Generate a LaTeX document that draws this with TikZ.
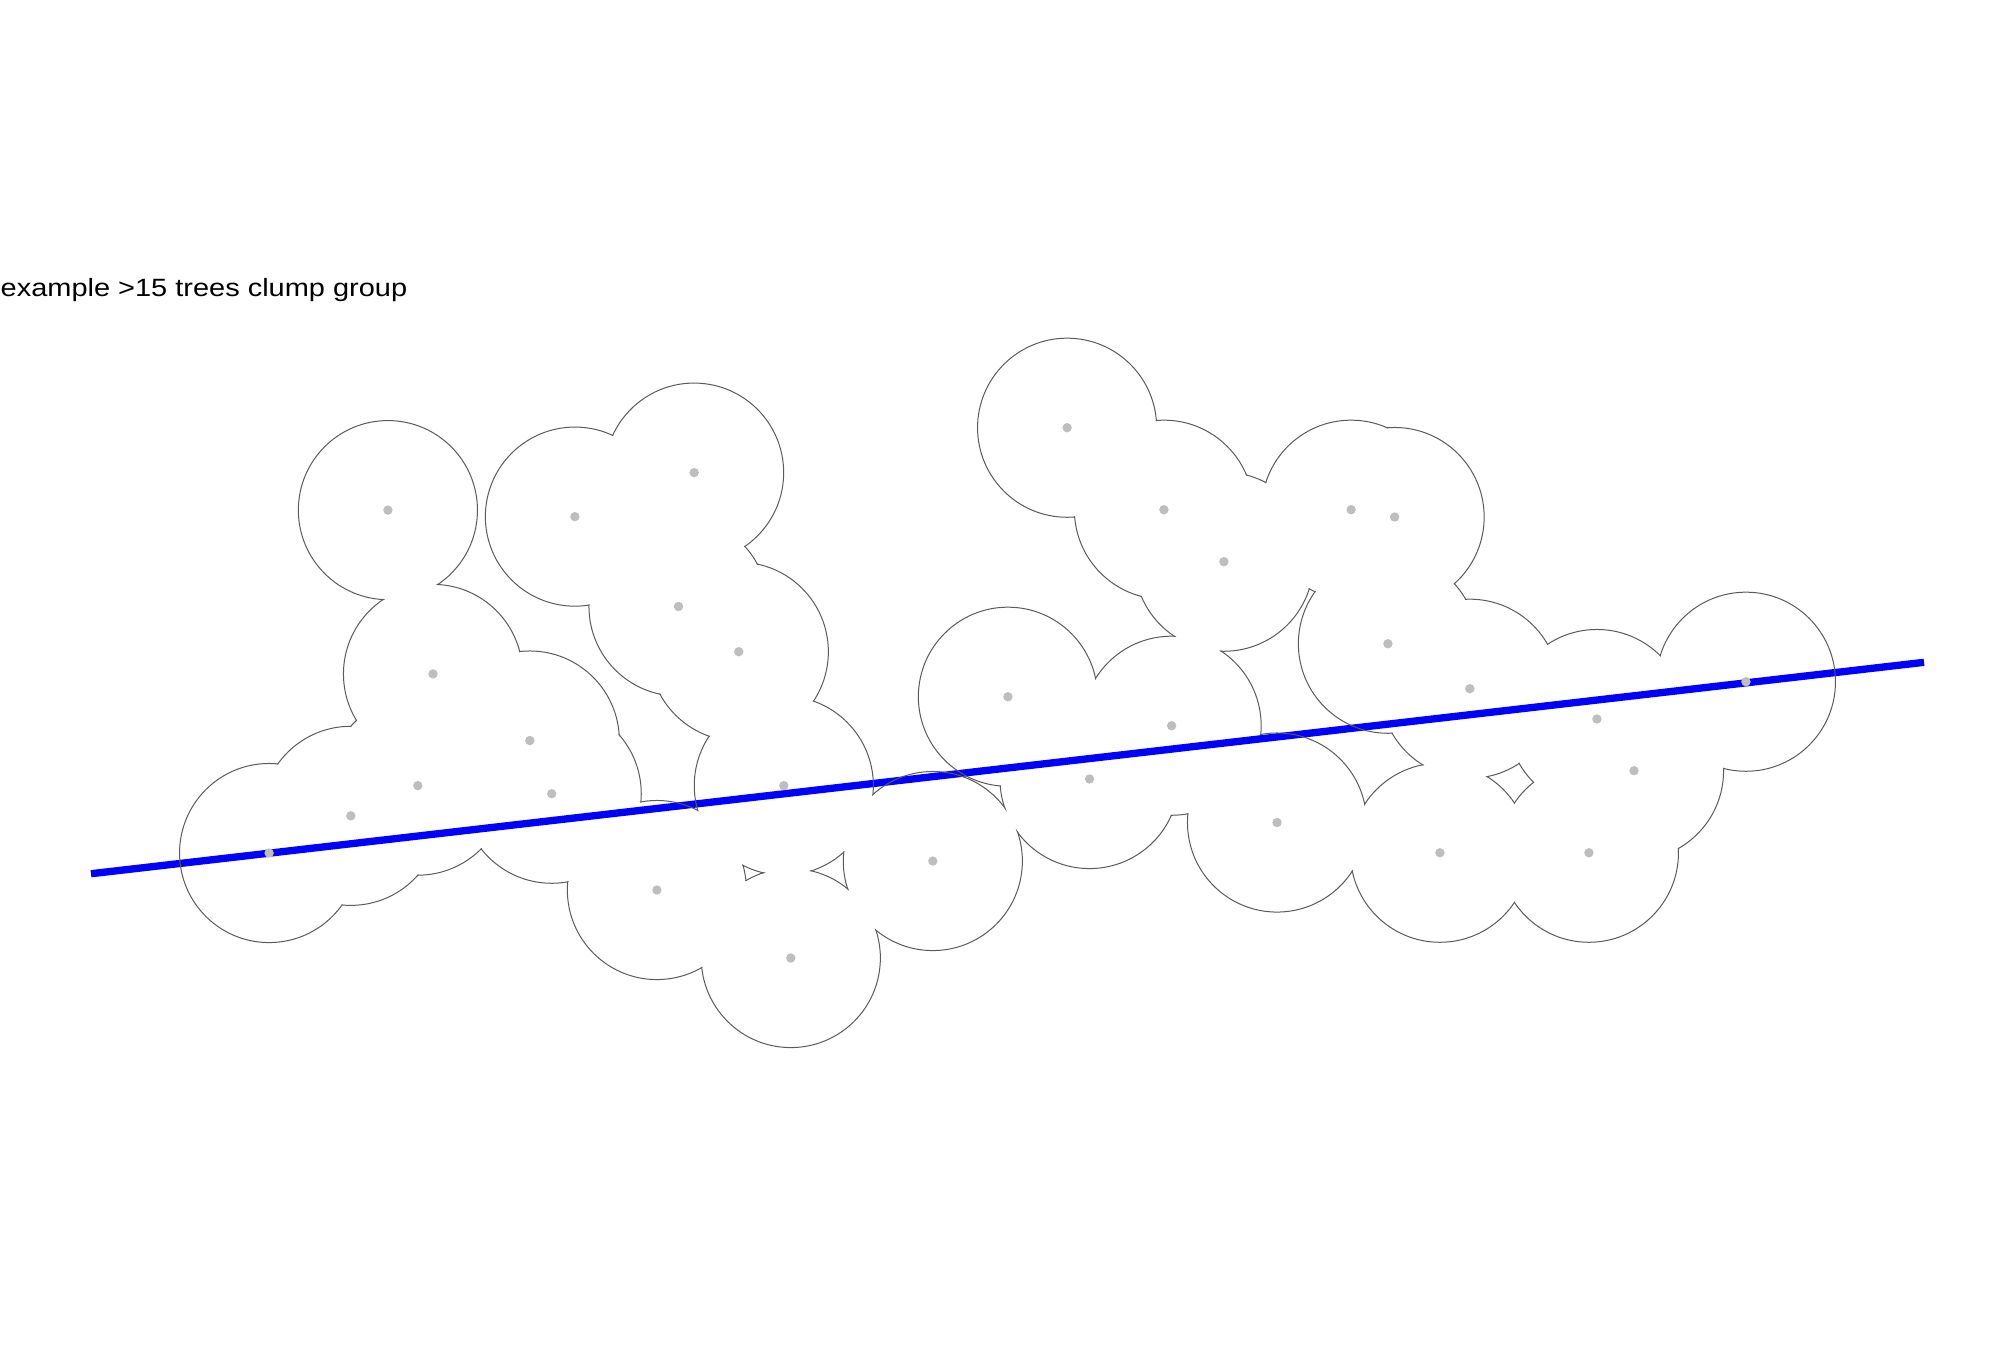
\documentclass[tikz,border=0pt]{standalone}
\usepackage{fontspec}
\usepackage{xcolor}
\usepackage{tikz}
\newfontfamily\labelfont{Liberation Sans}[FakeStretch=1.16]
\definecolor{crowngray}{HTML}{5A5A5A}
\definecolor{stemgray}{HTML}{BEBEBE}
\definecolor{transectblue}{HTML}{0000FF}

\begin{document}
\begin{tikzpicture}[
  x=0.01cm,
  y=-0.01cm,
  crown/.style={
    draw=crowngray,
    line width=0.02cm
  },
  stem/.style={
    fill=stemgray
  },
  transect/.style={
    draw=transectblue,
    line width=0.073cm
  }
]
  \useasboundingbox (0,0) rectangle (2016,1344);

  % Title
  \node[anchor=base west, inner sep=0pt, font=\labelfont\fontsize{7.1pt}{8pt}\selectfont] (title) at (0,296.7) {example >15 trees clump group};

  % Tree positions
  \foreach \px/\py [count=\n] in {
    387.9/510.1, 574.9/516.6, 694.1/472.6, 678.5/606.5, 738.8/651.7,
    433.0/673.9, 529.8/740.5, 417.8/785.6, 551.7/793.7, 350.8/815.8,
    269.1/853.0, 783.8/785.6, 656.9/890.0, 790.8/958.0, 932.8/861.0,
    1007.9/696.7, 1067.1/427.7, 1163.9/509.7, 1223.9/561.7, 1171.6/725.7,
    1089.5/779.0, 1277.0/822.5, 1351.1/509.7, 1394.6/517.0, 1387.9/643.7,
    1469.8/688.7, 1596.9/719.0, 1634.0/770.7, 1439.9/852.7, 1588.9/852.7,
    1745.9/681.7}
    \coordinate (t\n) at (\px,\py);

  % Transect line
  \coordinate (lineW) at (91,873.7);
  \coordinate (lineE) at (1924,662.3);
  \draw[transect] (lineW) -- (lineE);

  % Clump outline: only the outer edge of the merged crowns
  \begin{scope}[even odd rule]
    \foreach \n in {1,...,31}
      \clip (-10,-10) rectangle (2030,1360) (t\n) circle[radius=0.89cm];
    \foreach \n in {1,...,31}
      \draw[crown] (t\n) circle[radius=0.89cm];
  \end{scope}

  % Stems
  \foreach \n in {1,...,31}
    \fill[stem] (t\n) circle[radius=0.047cm];
\end{tikzpicture}
\end{document}
